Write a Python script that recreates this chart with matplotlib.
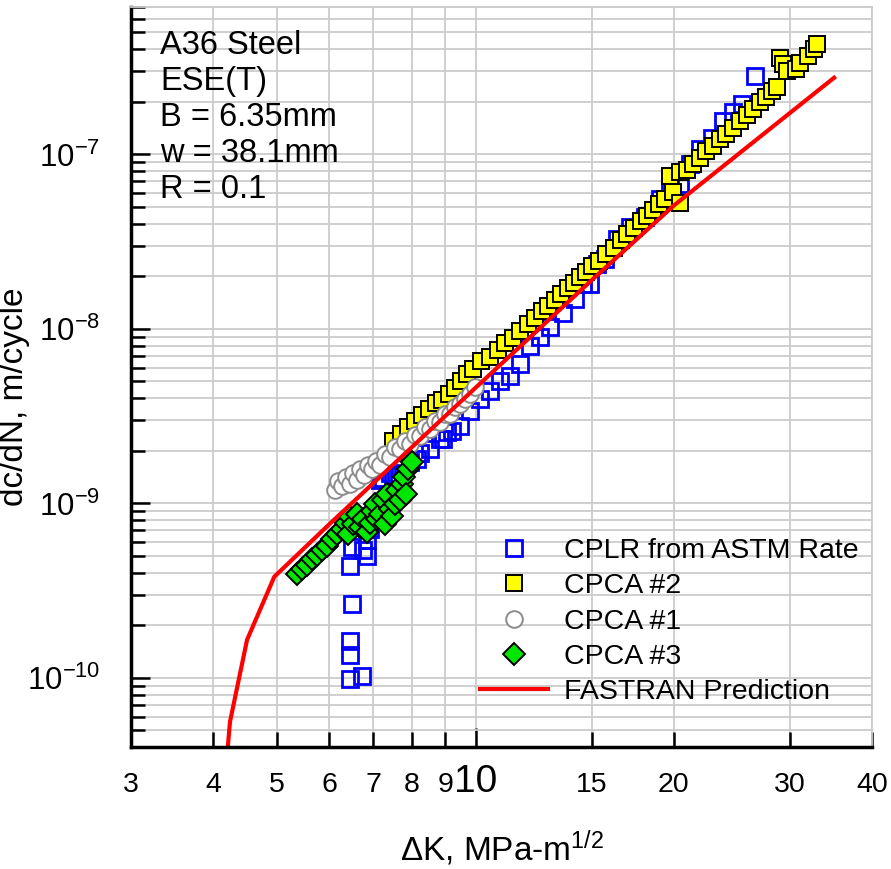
import matplotlib
matplotlib.use("Agg")
import matplotlib.pyplot as plt
import matplotlib.ticker as mticker

plt.rcParams['font.family'] = 'Liberation Sans'
plt.rcParams['mathtext.fontset'] = 'custom'
plt.rcParams['mathtext.rm'] = 'Liberation Sans'
plt.rcParams['mathtext.it'] = 'Liberation Sans:italic'

# CPLR from ASTM Rate (open blue squares)
cplr_dk = [6.45, 6.73, 6.45, 6.45, 6.50, 6.45, 6.50, 6.75, 6.85, 6.85, 6.92, 6.97,
           7.17, 7.24, 7.42, 7.50, 7.68, 7.76, 7.95, 8.15, 8.24, 8.53, 8.84, 8.93,
           9.06, 9.21, 9.48, 9.81, 10.16, 10.52, 10.90, 11.29, 11.69, 12.10, 12.53,
           12.98, 13.58, 14.17, 14.57, 14.93, 15.30, 15.73, 16.41, 17.17, 18.10,
           19.07, 19.75, 20.45, 21.18, 21.93, 22.87, 23.77, 24.61, 25.40, 26.58]
cplr_rate = [9.8e-11, 1.02e-10, 1.36e-10, 1.62e-10, 2.64e-10, 4.35e-10, 5.6e-10, 5.4e-10,
             4.97e-10, 6.2e-10, 7.1e-10, 8.1e-10, 1.37e-9, 1.4e-9, 1.5e-9, 1.45e-9, 1.6e-9,
             1.62e-9, 1.72e-9, 1.80e-9, 1.95e-9, 2.05e-9, 2.33e-9, 2.33e-9, 2.55e-9,
             2.59e-9, 2.76e-9, 3.37e-9, 3.95e-9, 4.38e-9, 5.0e-9, 5.35e-9, 6.26e-9,
             7.94e-9, 8.94e-9, 1.02e-8, 1.24e-8, 1.48e-8, 1.80e-8, 1.82e-8, 2.34e-8,
             2.5e-8, 3.26e-8, 3.82e-8, 4.35e-8, 5.52e-8, 6.30e-8, 6.73e-8, 8.77e-8,
             1.07e-7, 1.25e-7, 1.55e-7, 1.74e-7, 1.94e-7, 2.80e-7]

# CPCA #2 (yellow squares)
cpca2_dk = [7.5, 7.7, 7.9, 8.1, 8.3, 8.5, 8.7, 8.9, 9.1, 9.3, 9.5, 9.7, 9.9, 10.2, 10.5,
            10.8, 11.1, 11.4, 11.7, 12.0, 12.3, 12.6, 12.9, 13.2, 13.5, 13.8, 14.1, 14.4,
            14.7, 15.0, 15.4, 15.8, 16.2, 16.6, 17.0, 17.4, 17.8, 18.2, 18.6, 19.0, 19.4,
            19.75, 19.95, 20.45, 20.45, 20.9, 21.4, 21.9, 22.4, 22.9, 23.5, 24.0, 24.6,
            25.2, 25.8, 26.4, 27.0, 27.6, 28.2, 28.7, 29.0, 29.3, 29.7, 30.6, 31.1, 31.9,
            32.6, 33.0]
cpca2_rate = [2.28e-9, 2.50e-9, 2.73e-9, 2.98e-9, 3.19e-9, 3.47e-9, 3.76e-9, 3.91e-9,
              4.22e-9, 4.56e-9, 5.0e-9, 5.48e-9, 5.89e-9, 6.53e-9, 6.87e-9, 7.58e-9,
              8.35e-9, 8.85e-9, 9.69e-9, 1.06e-8, 1.15e-8, 1.26e-8, 1.35e-8, 1.46e-8,
              1.58e-8, 1.71e-8, 1.84e-8, 1.98e-8, 2.13e-8, 2.29e-8, 2.45e-8, 2.68e-8,
              2.92e-8, 3.23e-8, 3.51e-8, 3.81e-8, 4.13e-8, 4.46e-8, 4.82e-8, 5.19e-8,
              5.58e-8, 7.5e-8, 6.1e-8, 5.3e-8, 7.9e-8, 8.15e-8, 8.86e-8, 9.6e-8, 1.04e-7,
              1.12e-7, 1.22e-7, 1.31e-7, 1.42e-7, 1.55e-7, 1.69e-7, 1.83e-7, 1.99e-7,
              2.14e-7, 2.30e-7, 2.45e-7, 3.59e-7, 3.28e-7, 2.99e-7, 3.07e-7, 3.36e-7,
              3.65e-7, 4.0e-7, 4.27e-7]

# CPCA #1 (grey circles)
cpca1_dk = [6.12, 6.19, 6.27, 6.36, 6.45, 6.52, 6.61, 6.68, 6.77, 6.87, 6.97, 7.07, 7.17,
            7.29, 7.42, 7.55, 7.68, 7.82, 7.95, 8.10, 8.24, 8.38, 8.53, 8.68, 8.84, 8.99,
            9.15, 9.31, 9.48, 9.65, 9.81, 9.99]
cpca1_rate = [1.20e-9, 1.34e-9, 1.25e-9, 1.41e-9, 1.30e-9, 1.49e-9, 1.37e-9, 1.57e-9,
              1.45e-9, 1.65e-9, 1.57e-9, 1.74e-9, 1.67e-9, 1.91e-9, 1.84e-9, 2.10e-9,
              2.04e-9, 2.27e-9, 2.18e-9, 2.48e-9, 2.42e-9, 2.73e-9, 2.66e-9, 2.95e-9,
              2.91e-9, 3.24e-9, 3.24e-9, 3.55e-9, 3.69e-9, 3.95e-9, 4.22e-9, 4.62e-9]

# CPCA #3 (green diamonds)
cpca3_dk = [5.36, 5.45, 5.55, 5.65, 5.75, 5.85, 5.95, 6.06, 6.17, 6.27, 6.36, 6.45, 6.41,
            6.52, 6.61, 6.68, 6.75, 6.85, 6.92, 6.97, 7.04, 7.09, 7.17, 7.24, 7.29, 7.34,
            7.42, 7.47, 7.55, 7.60, 7.68, 7.74, 7.79, 7.85, 7.90, 8.01]
cpca3_rate = [3.92e-10, 4.19e-10, 4.42e-10, 4.78e-10, 5.04e-10, 5.38e-10, 5.67e-10,
              6.22e-10, 6.64e-10, 7.10e-10, 7.68e-10, 8.31e-10, 6.64e-10, 7.59e-10,
              8.65e-10, 7.28e-10, 8.09e-10, 6.82e-10, 7.68e-10, 8.99e-10, 9.87e-10,
              8.09e-10, 8.65e-10, 1.05e-9, 7.59e-10, 1.13e-9, 9.24e-10, 8.43e-10,
              9.87e-10, 1.20e-9, 1.05e-9, 1.29e-9, 1.41e-9, 1.13e-9, 1.57e-9, 1.72e-9]

# FASTRAN prediction (red line)
fastran_dk = [4.18, 4.24, 4.50, 4.95, 6.0, 10.0, 15.0, 20.0, 35.0]
fastran_rate = [3.0e-11, 5.6e-11, 1.65e-10, 3.8e-10, 7.6e-10, 4.6e-9, 1.9e-8, 5.1e-8, 2.75e-7]

x_major = [10]
x_minor = [3, 4, 5, 6, 7, 8, 9, 15, 20, 30, 40]
y_major = [1e-10, 1e-9, 1e-8, 1e-7]
y_major_labels = [r'$10^{-10}$', r'$10^{-9}$', r'$10^{-8}$', r'$10^{-7}$']
y_minor = [m * 10.0 ** e for e in range(-11, -6) for m in range(2, 10)
           if 4.0e-11 <= m * 10.0 ** e <= 7.0e-7]

fig = plt.figure(figsize=(8.91, 8.69), dpi=100)
ax = fig.add_axes([0.147, 0.140, 0.832, 0.852])

ax.set_xscale('log')
ax.set_yscale('log')

ax.plot(cplr_dk, cplr_rate, 's', ms=11.5, mfc='none', mec='#0000ff', mew=2.0,
        label='CPLR from ASTM Rate')
ax.plot(cpca2_dk, cpca2_rate, 's', ms=11, mfc='#ffff00', mec='black', mew=1.4,
        label='CPCA #2')
ax.plot(cpca1_dk, cpca1_rate, 'o', ms=12, mfc='white', mec='#8c8c8c', mew=1.4,
        label='CPCA #1')
ax.plot(cpca3_dk, cpca3_rate, 'D', ms=11, mfc='#00e600', mec='black', mew=1.4,
        label='CPCA #3')
ax.plot(fastran_dk, fastran_rate, '-', color='#ff0000', lw=3.0,
        label='FASTRAN Prediction')

ax.set_xlim(3, 40)
ax.set_ylim(4.0e-11, 7.0e-7)

# ticks
ax.set_xticks(x_major, labels=[str(v) for v in x_major])
ax.set_xticks(x_minor, labels=[str(v) for v in x_minor], minor=True)
ax.set_yticks(y_major, labels=y_major_labels)
ax.yaxis.set_minor_locator(mticker.FixedLocator(y_minor))
ax.yaxis.set_minor_formatter(mticker.NullFormatter())

ax.tick_params(axis='both', which='both', direction='in', width=1.8, color='black',
               top=False, right=False)
ax.tick_params(axis='x', which='major', length=14, labelsize=28, pad=12)
ax.tick_params(axis='x', which='minor', length=11, labelsize=20.5, pad=18)
ax.tick_params(axis='y', which='major', length=14, labelsize=22.5, pad=22)
ax.tick_params(axis='y', which='minor', length=10)

ax.grid(True, which='both', color='#cccccc', lw=1.3)
ax.set_axisbelow(True)

for s in ['left', 'bottom']:
    ax.spines[s].set_linewidth(2.5)
    ax.spines[s].set_color('black')
for s in ['top', 'right']:
    ax.spines[s].set_linewidth(1.3)
    ax.spines[s].set_color('#cccccc')

ax.set_xlabel(r'$\Delta$K, MPa-m$^{1/2}$', fontsize=24, labelpad=20)
ax.set_ylabel('dc/dN, m/cycle', fontsize=24)
ax.yaxis.set_label_coords(-0.136, 0.473)

ax.text(0.039, 0.969, 'A36 Steel\nESE(T)\nB = 6.35mm\nw = 38.1mm\nR = 0.1',
        transform=ax.transAxes, ha='left', va='top', fontsize=23.5, linespacing=1.21)

ax.legend(loc='upper left', bbox_to_anchor=(0.471, 0.283), frameon=False, fontsize=20.5,
          borderpad=0, handlelength=2.4, handletextpad=0.53, labelspacing=0.33,
          borderaxespad=0)

fig.savefig('out.png', dpi=100)
